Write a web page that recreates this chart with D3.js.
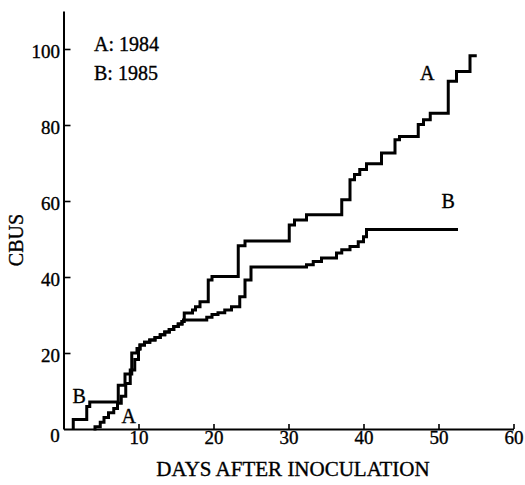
<!DOCTYPE html>
<html>
<head>
<meta charset="utf-8">
<script src="https://cdn.jsdelivr.net/npm/d3@7"></script>
<style>
    body { margin: 0; background: #fff; }
    svg { display: block; }
    text { font-family: "Liberation Serif", "Times New Roman", serif; fill: #000; stroke: #000; stroke-width: 0.35px; }
</style>
</head>
<body>
<div id="chart"></div>
<script>
(function cbusChart() {
    'use strict';

    /* data */

    // [day, cumulative CBUS] - value holds from that day on
    var seriesA = [
        [4.0, 0], [4.2, 0.6], [4.9, 1.8], [5.4, 3.0], [6.0, 4.3], [6.7, 5.4], [7.2, 6.8],
        [7.7, 8.6], [8.3, 12.0], [8.9, 15.5], [9.5, 18.3], [10.0, 21.0],
        [10.2, 22.1], [10.8, 22.8], [11.5, 23.4], [12.2, 24.1], [12.9, 24.8], [13.5, 25.5],
        [14.1, 26.2], [14.7, 27.0], [15.3, 27.6], [15.8, 28.3],
        [16.1, 30.5], [17.2, 31.3], [17.6, 32.2], [18.2, 33.5], [19.3, 39.2], [19.8, 40.1],
        [23.3, 48.2], [24.2, 49.5], [30.1, 53.7], [30.8, 55.0], [32.4, 56.4], [37.1, 60.3],
        [38.2, 65.6], [38.8, 67.0], [39.5, 68.3], [40.4, 69.8], [42.4, 72.6], [44.2, 76.1],
        [44.8, 77.0], [47.3, 80.1], [48.0, 81.4], [48.9, 83.1], [51.3, 91.5], [52.4, 94.1],
        [54.2, 98.2], [55.1, 98.2]
    ];

    var seriesB = [
        [1.3, 0], [1.3, 2.5], [3.1, 5.9], [3.5, 7.1], [7.3, 11.5], [8.2, 14.5], [9.1, 20.0],
        [9.8, 21.2],
        [10.2, 22.1], [10.8, 22.8], [11.5, 23.4], [12.2, 24.1], [12.9, 24.8], [13.5, 25.5],
        [14.1, 26.2], [14.7, 27.0], [15.3, 27.6], [15.8, 28.3],
        [16.0, 28.7], [19.1, 29.4], [19.8, 30.1], [20.6, 30.6], [21.5, 31.3], [22.4, 32.2],
        [23.5, 34.8], [24.2, 39.2], [25.0, 42.6], [32.4, 43.2], [33.3, 44.1], [34.4, 45.0],
        [36.4, 46.3], [37.1, 47.2], [38.2, 48.0], [39.3, 49.3], [40.0, 50.6], [40.4, 52.5],
        [52.6, 52.5]
    ];

    var xTicks = [10, 20, 30, 40, 50, 60];
    var yTicks = [20, 40, 60, 80, 100];
    var legendLines = ['A: 1984', 'B: 1985'];

    // curve letters: [text, day, value]
    var curveLabels = [
        ['A', 48.5, 91.9], ['B', 51.3, 58.2],
        ['B', 2.1, 6.8], ['A', 8.7, 1.6]
    ];

    /* layout */

    var width = 525;
    var height = 485;
    var margin = { top: 11, right: 11.5, bottom: 56, left: 63.5 };

    var x = d3.scaleLinear()
        .domain([0, 60])
        .range([margin.left, width - margin.right]);

    var y = d3.scaleLinear()
        .domain([0, 110])
        .range([height - margin.bottom, margin.top]);

    var svg = d3.select('#chart').append('svg')
        .attr('width', width)
        .attr('height', height)
    ;

    /* --- axes */

    var xAxis = svg.append('g')
        .attr('transform', 'translate(0,' + y(0) + ')')
        .call(d3.axisBottom(x)
            .tickValues(xTicks)
            .tickSizeInner(-5)
            .tickSizeOuter(0)
            .tickPadding(1))
    ;

    var yAxis = svg.append('g')
        .attr('transform', 'translate(' + x(0) + ',0)')
        .call(d3.axisLeft(y)
            .tickValues(yTicks)
            .tickSizeInner(-7)
            .tickSizeOuter(0)
            .tickPadding(3.5))
    ;

    [xAxis, yAxis].forEach(function (axis) {
        axis.select('.domain').attr('stroke', '#000').attr('stroke-width', 2);
        axis.selectAll('.tick line').attr('stroke', '#000').attr('stroke-width', 1.6);
        axis.selectAll('.tick text')
            .style('font-family', '"Liberation Serif", serif')
            .style('font-size', '19px')
            .attr('fill', '#000');
    });
    yAxis.selectAll('.tick text').attr('dy', '0.45em');

    // lone 0 at the origin
    svg.append('text')
        .attr('x', x(0) - 8.5)
        .attr('y', y(0) + 13)
        .attr('text-anchor', 'middle')
        .style('font-size', '19px')
        .text('0');

    /* --- axis titles */

    svg.append('text')
        .attr('x', 293)
        .attr('y', 476)
        .attr('text-anchor', 'middle')
        .style('font-size', '21px')
        .text('DAYS AFTER INOCULATION');

    svg.append('text')
        .attr('transform', 'translate(23,' + 240 + ') rotate(-90)')
        .attr('text-anchor', 'middle')
        .style('font-size', '20px')
        .text('CBUS');

    /* --- step lines */

    var line = d3.line()
        .x(function (d) { return x(d[0]); })
        .y(function (d) { return y(d[1]); })
        .curve(d3.curveStepAfter);

    svg.selectAll('path.series')
        .data([seriesA, seriesB])
        .enter()
        .append('path')
        .attr('class', 'series')
        .attr('d', line)
        .attr('fill', 'none')
        .attr('stroke', '#000')
        .attr('stroke-width', 3)
        .attr('stroke-linejoin', 'miter')
    ;

    /* --- labels */

    svg.selectAll('text.curve-label')
        .data(curveLabels)
        .enter()
        .append('text')
        .attr('class', 'curve-label')
        .attr('x', function (d) { return x(d[1]); })
        .attr('y', function (d) { return y(d[2]); })
        .attr('text-anchor', 'middle')
        .style('font-size', '20px')
        .text(function (d) { return d[0]; })
    ;

    svg.selectAll('text.legend')
        .data(legendLines)
        .enter()
        .append('text')
        .attr('class', 'legend')
        .attr('x', 94)
        .attr('y', function (d, i) { return 51 + i * 29; })
        .style('font-size', '20px')
        .text(function (d) { return d; })
    ;
})();
</script>
</body>
</html>
